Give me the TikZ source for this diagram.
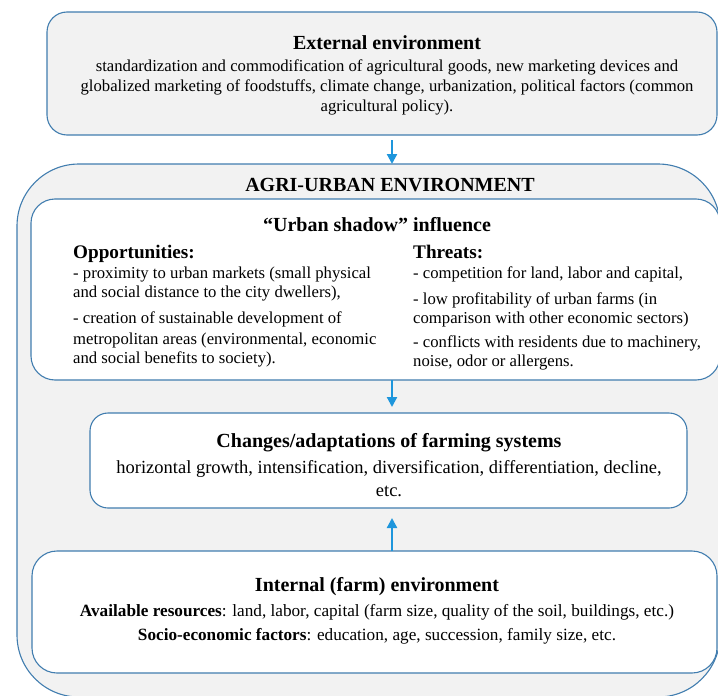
\documentclass[tikz,border=0pt]{standalone}
\usepackage{fontspec}
\setmainfont{Liberation Serif}
\usetikzlibrary{arrows.meta}
\definecolor{edgeblue}{RGB}{65,125,175}
\definecolor{arrblue}{RGB}{30,150,220}
\definecolor{panel}{RGB}{242,242,242}
\begin{document}
\begin{tikzpicture}[x=1pt,y=-1pt,
  panelbox/.style={draw=edgeblue, line width=1.1pt, inner sep=0pt, outer sep=0pt, anchor=north west},
  flow/.style={draw=arrblue, line width=2.2pt, -{Triangle[width=10pt,length=10pt]}},
  ttl/.style={font=\fontsize{20}{22}\selectfont\bfseries, anchor=base, inner sep=0pt},
  body/.style={font=\fontsize{16.7}{20}\selectfont, inner sep=0pt},
  hd/.style={font=\fontsize{19.2}{21}\selectfont\bfseries, anchor=base west, inner sep=0pt}]
\useasboundingbox (0,0) rectangle (718,696);
% boxes
\node[panelbox, fill=panel, rounded corners=20pt, minimum width=670pt, minimum height=123pt] (ext) at (47,12) {};
\node[panelbox, fill=panel, rounded corners=62pt, minimum width=703pt, minimum height=533pt] (agri) at (17,164) {};
\node[panelbox, fill=white, rounded corners=24pt, minimum width=689pt, minimum height=181pt] (urban) at (31,199) {};
\node[panelbox, fill=white, rounded corners=18pt, minimum width=597pt, minimum height=95pt] (chg) at (90,413) {};
\node[panelbox, fill=white, rounded corners=25pt, minimum width=685pt, minimum height=122pt] (int) at (32,551) {};
\coordinate (ax) at (392,0);
% arrows
\draw[flow, shorten <=5pt] (ext.south -| ax) -- (agri.north -| ax);
\draw[flow, shorten >=6pt] (urban.south -| ax) -- (chg.north -| ax);
\draw[flow, shorten >=10pt] (int.north -| ax) -- (chg.south -| ax);
% external text
\node[ttl] (t1) at (387,49) {External environment};
\node[body, anchor=base] (e1) at (387,71) {standardization and commodification of agricultural goods, new marketing devices and};
\node[body, anchor=base] (e2) at (387,91) {globalized marketing of foodstuffs, climate change, urbanization, political factors (common};
\node[body, anchor=base] (e3) at (387,111) {agricultural policy).};
% agri-urban
\node[ttl] (t2) at (390,191) {AGRI-URBAN ENVIRONMENT};
\node[ttl] (t3) at (377,231) {“Urban shadow” influence};
\node[hd] (op) at (73,258) {Opportunities:};
\node[hd] (th) at (413,258) {Threats:};
\node[body, anchor=base west] (o1) at (73,278) {- proximity to urban markets (small physical};
\node[body, anchor=base west] (o2) at (73,297) {and social distance to the city dwellers),};
\node[body, anchor=base west] (o3) at (73,323) {- creation of sustainable development of};
\node[body, anchor=base west] (o4) at (73,344) {metropolitan areas (environmental, economic};
\node[body, anchor=base west] (o5) at (73,363) {and social benefits to society).};
\node[body, anchor=base west] (r1) at (413,278) {- competition for land, labor and capital,};
\node[body, anchor=base west] (r2) at (413,304) {- low profitability of urban farms (in};
\node[body, anchor=base west] (r3) at (413,323) {comparison with other economic sectors)};
\node[body, anchor=base west] (r4) at (413,347) {- conflicts with residents due to machinery,};
\node[body, anchor=base west] (r5) at (413,366) {noise, odor or allergens.};
% changes
\node[ttl] (t4) at (389,447) {Changes/adaptations of farming systems};
\node[body, anchor=base, font=\fontsize{18.5}{20}\selectfont] (c1) at (389,473) {horizontal growth, intensification, diversification, differentiation, decline,};
\node[body, anchor=base, font=\fontsize{18.5}{20}\selectfont] (c2) at (389,496) {etc.};
% internal
\node[ttl] (t5) at (377,591) {Internal (farm) environment};
\node[body, anchor=base, font=\fontsize{17.2}{20}\selectfont] (i1) at (377,616) {\textbf{Available resources}: land, labor, capital (farm size, quality of the soil, buildings, etc.)};
\node[body, anchor=base, font=\fontsize{17.2}{20}\selectfont] (i2) at (377,640) {\textbf{Socio-economic factors}: education, age, succession, family size, etc.};
\end{tikzpicture}
\end{document}
